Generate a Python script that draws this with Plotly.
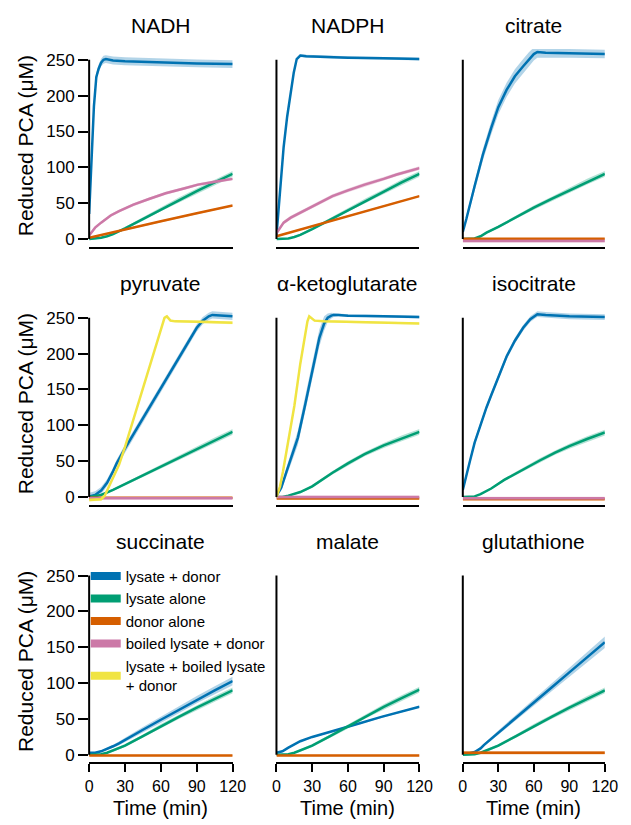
import numpy as np
import plotly.graph_objects as go

# ---------------- data ----------------
PANELS = ["NADH", "NADPH", "citrate", "pyruvate", "α-ketoglutarate",
          "isocitrate", "succinate", "malate", "glutathione"]
CONDITIONS = ["lysate + donor", "lysate alone", "donor alone",
              "boiled lysate + donor", "lysate + boiled lysate<br>+ donor"]
COLORS = ["#0072B2", "#009E73", "#D55E00", "#CC79A7", "#F0E442"]
BAND_COLORS = ["rgba(0,114,178,0.30)", "rgba(0,158,115,0.30)", "rgba(213,94,0,0.30)",
               "rgba(204,121,167,0.35)", "rgba(240,228,66,0.35)"]
X_TICKS = [0, 30, 60, 90, 120]
Y_TICKS = [0, 50, 100, 150, 200, 250]

LA_SD = [1, 1, 1, 1, 1.5, 2, 2.5, 3, 3, 3.5, 4, 4]

# NADH
NADH_LD_T = [0, 2, 4, 6, 8, 10, 12, 14, 20, 30, 45, 60, 90, 120]
NADH_LD_Y = [35, 120, 185, 226, 238, 246, 250, 251, 249, 248, 247, 246, 245, 244]
NADH_LD_SD = 5.5
NADH_LA_T = [0, 5, 10, 15, 20, 30, 45, 60, 75, 90, 105, 120]
NADH_LA_Y = [0, 0.5, 2, 4, 7, 15, 28, 42, 55, 67, 79, 91]
NADH_DA_T = [0, 30, 60, 90, 120]
NADH_DA_Y = [2, 14, 25, 36, 47]
NADH_BLD_T = [0, 5, 10, 18, 25, 37, 50, 64, 80, 91, 105, 120]
NADH_BLD_Y = [5, 16, 23, 33, 39, 48, 56, 64, 71, 76, 80, 84]

# NADPH
NADPH_LD_T = [0, 2, 3.5, 6, 9, 12, 14.5, 17, 20, 25, 40, 60, 90, 120]
NADPH_LD_Y = [5, 46, 83, 128, 171, 206, 232, 251, 256, 255, 254, 253, 252, 251]
NADPH_LA_T = [0, 5, 10, 15, 20, 30, 45, 60, 75, 90, 105, 120]
NADPH_LA_Y = [0, 0, 1, 3, 6, 14, 27, 41, 54, 66, 79, 91]
NADPH_DA_T = [0, 30, 60, 90, 120]
NADPH_DA_Y = [4, 18, 32, 46, 60]
NADPH_BLD_T = [0, 6, 12, 20, 30, 47, 60, 74, 90, 101, 120]
NADPH_BLD_Y = [8, 23, 30, 37, 46, 60, 68, 76, 84, 90, 99]

# citrate
CIT_LD_T = [0, 3, 10, 17, 24, 30, 37, 44, 51, 56, 60, 63, 70, 90, 120]
CIT_LD_Y = [10, 28, 74, 118, 155, 184, 208, 227, 241, 251, 258, 261, 260, 259, 258]
CIT_LD_SD = [3, 5, 7, 8, 9, 10, 10, 10, 10, 10, 9, 8, 7, 6, 6]
CIT_LA_T = [0, 5, 10, 15, 20, 30, 45, 60, 75, 90, 105, 120]
CIT_LA_Y = [0, 0, 1, 4, 9, 17, 31, 44, 56, 68, 80, 91]
CIT_DA_T = [0, 60, 120]
CIT_DA_Y = [0.5, 0.5, 0.5]
CIT_BLD_T = [0, 60, 120]
CIT_BLD_Y = [-2.5, -2.5, -2.5]

# pyruvate
PYR_LD_T = [0, 5, 10, 15, 20, 23, 30, 40, 50, 60, 70, 80, 90, 95, 100, 103, 110, 120]
PYR_LD_Y = [1, 3, 9, 20, 36, 47, 68, 96, 124, 152, 180, 208, 236, 246, 252, 254, 253, 252]
PYR_LA_T = [0, 5, 10, 20, 30, 45, 60, 75, 90, 105, 120]
PYR_LA_Y = [0, 1, 3, 10, 18, 30, 43, 55, 67, 79, 91]
PYR_DA_T = [0, 60, 120]
PYR_DA_Y = [-1, -1, -1]
PYR_BLD_T = [0, 60, 120]
PYR_BLD_Y = [-1.5, -1.5, -1.5]
PYR_LBLD_T = [0, 5, 10, 13, 18, 25, 30, 40, 50, 60, 63, 65, 68, 72, 80, 100, 120]
PYR_LBLD_Y = [-4, -4, -3, 2, 20, 45, 70, 125, 180, 235, 250, 252, 246, 245, 245, 244, 243]

# alpha-ketoglutarate
AKG_LD_T = [0, 4, 8.5, 13, 18, 24, 30, 36, 40, 43, 46, 48, 52, 60, 90, 120]
AKG_LD_Y = [2, 13, 36, 58, 83, 128, 175, 222, 242, 250, 253, 254, 254, 253, 252, 251]
AKG_LD_SD = [2, 4, 6, 8, 10, 12, 12, 12, 10, 6, 4, 3, 2, 2, 2, 2]
AKG_LA_T = [0, 5, 10, 20, 30, 47, 60, 74, 90, 105, 120]
AKG_LA_Y = [0, 0, 2, 7, 15, 34, 47, 60, 72, 82, 91]
AKG_DA_T = [0, 60, 120]
AKG_DA_Y = [-2, -2, -2]
AKG_BLD_T = [0, 60, 120]
AKG_BLD_Y = [0, 0, 0]
AKG_LBLD_T = [0, 3, 5.5, 10, 15, 20, 23.5, 26, 27.5, 29, 32, 40, 60, 90, 120]
AKG_LBLD_Y = [0, 15, 36, 80, 127, 186, 224, 245, 252, 250, 246, 245, 244, 243, 242]

# isocitrate
ISO_LD_T = [0, 3, 6, 10, 14, 17, 20, 24, 30, 37, 44, 51, 57, 61, 63, 70, 90, 120]
ISO_LD_Y = [10, 32, 50, 76, 96, 110, 125, 142, 168, 196, 218, 236, 248, 253, 255, 254, 252, 251]
ISO_LA_T = [0, 5, 10, 15, 24, 35, 51, 65, 78, 90, 105, 120]
ISO_LA_Y = [0, 0, 1, 4, 12, 24, 39, 51, 62, 71, 81, 90]
ISO_DA_T = [0, 60, 120]
ISO_DA_Y = [-3, -3, -3]
ISO_BLD_T = [0, 60, 120]
ISO_BLD_Y = [-1.5, -1.5, -1.5]

# succinate
SUC_LD_T = [0, 5, 10, 15, 20, 25, 30, 45, 60, 75, 90, 105, 120]
SUC_LD_Y = [3, 3, 5, 8, 12, 16, 21, 35, 49, 63, 77, 90, 103]
SUC_LD_SD = [1, 1, 1, 1.5, 2, 2.5, 3, 4, 4.5, 5, 5, 5.5, 6]
SUC_LA_T = [0, 5, 10, 15, 20, 30, 45, 60, 75, 90, 105, 120]
SUC_LA_Y = [0, 0, 1, 3, 6, 13, 26, 40, 53, 66, 78, 90]
SUC_DA_T = [0, 60, 120]
SUC_DA_Y = [-1, -1, -1]

# malate
MAL_LD_T = [0, 5, 10, 20, 30, 45, 57, 70, 88, 105, 120]
MAL_LD_Y = [3, 5, 10, 19, 25, 32, 37, 44, 53, 60, 67]
MAL_LA_T = [0, 5, 10, 15, 20, 30, 45, 57, 75, 90, 105, 120]
MAL_LA_Y = [0, 0, 1, 3, 6, 13, 26, 37, 54, 67, 79, 91]
MAL_DA_T = [0, 60, 120]
MAL_DA_Y = [-1, -1, -1]

# glutathione
GLU_LD_T = [0, 5, 10, 15, 18, 25, 30, 45, 60, 75, 90, 105, 120]
GLU_LD_Y = [2, 2, 4, 9, 14, 24, 31, 52, 73, 94, 115, 136, 157]
GLU_LD_SD = [1, 1, 1, 2, 2, 3, 3, 4, 5, 6, 6, 7, 8]
GLU_LA_T = [0, 5, 10, 15, 20, 30, 45, 60, 75, 90, 105, 120]
GLU_LA_Y = [0, 0, 1, 3, 6, 13, 26, 40, 53, 66, 78, 90]
GLU_DA_T = [0, 60, 120]
GLU_DA_Y = [3, 3, 3]

# (condition index, t, y, sd) per panel
SERIES = {
    "NADH": [(0, NADH_LD_T, NADH_LD_Y, NADH_LD_SD), (1, NADH_LA_T, NADH_LA_Y, LA_SD),
             (2, NADH_DA_T, NADH_DA_Y, 1), (3, NADH_BLD_T, NADH_BLD_Y, 2)],
    "NADPH": [(0, NADPH_LD_T, NADPH_LD_Y, 2), (1, NADPH_LA_T, NADPH_LA_Y, LA_SD),
              (2, NADPH_DA_T, NADPH_DA_Y, 1), (3, NADPH_BLD_T, NADPH_BLD_Y, 2.5)],
    "citrate": [(0, CIT_LD_T, CIT_LD_Y, CIT_LD_SD), (1, CIT_LA_T, CIT_LA_Y, LA_SD),
                (2, CIT_DA_T, CIT_DA_Y, 1), (3, CIT_BLD_T, CIT_BLD_Y, 2)],
    "pyruvate": [(0, PYR_LD_T, PYR_LD_Y, 5), (1, PYR_LA_T, PYR_LA_Y, LA_SD[1:]),
                 (2, PYR_DA_T, PYR_DA_Y, 1), (3, PYR_BLD_T, PYR_BLD_Y, 2),
                 (4, PYR_LBLD_T, PYR_LBLD_Y, 2)],
    "α-ketoglutarate": [(0, AKG_LD_T, AKG_LD_Y, AKG_LD_SD), (1, AKG_LA_T, AKG_LA_Y, LA_SD[1:]),
                        (2, AKG_DA_T, AKG_DA_Y, 1), (3, AKG_BLD_T, AKG_BLD_Y, 2),
                        (4, AKG_LBLD_T, AKG_LBLD_Y, 1.5)],
    "isocitrate": [(0, ISO_LD_T, ISO_LD_Y, 4), (1, ISO_LA_T, ISO_LA_Y, LA_SD),
                   (2, ISO_DA_T, ISO_DA_Y, 1), (3, ISO_BLD_T, ISO_BLD_Y, 2)],
    "succinate": [(0, SUC_LD_T, SUC_LD_Y, SUC_LD_SD), (1, SUC_LA_T, SUC_LA_Y, LA_SD),
                  (2, SUC_DA_T, SUC_DA_Y, 1)],
    "malate": [(0, MAL_LD_T, MAL_LD_Y, 1), (1, MAL_LA_T, MAL_LA_Y, LA_SD),
               (2, MAL_DA_T, MAL_DA_Y, 1)],
    "glutathione": [(0, GLU_LD_T, GLU_LD_Y, GLU_LD_SD), (1, GLU_LA_T, GLU_LA_Y, LA_SD),
                    (2, GLU_DA_T, GLU_DA_Y, 2.5)],
}

# ---------------- layout geometry (pixels) ----------------
W, H = 631, 825
FONT = "Liberation Sans, Arial, sans-serif"
COL_PX = [(87.5, 235), (280, 427), (471.5, 617.5)]
ROW_ZERO_PX = [239.7, 498.3, 756.7]
Y_MIN, Y_MAX = -10.4, 265
PX_PER_UNIT = 0.719


def px_x(p):
    return p / W


def px_y(p):
    return 1 - p / H


fig = go.Figure()
layout = dict(width=W, height=H, margin=dict(l=0, r=0, t=0, b=0),
              paper_bgcolor="white", plot_bgcolor="white",
              font=dict(family=FONT, size=17, color="black"),
              showlegend=True)
annotations = []
shapes = []

for i, name in enumerate(PANELS):
    r, c = divmod(i, 3)
    xa = "x" if i == 0 else f"x{i + 1}"
    ya = "y" if i == 0 else f"y{i + 1}"
    xkey = "xaxis" if i == 0 else f"xaxis{i + 1}"
    ykey = "yaxis" if i == 0 else f"yaxis{i + 1}"
    zero = ROW_ZERO_PX[r]
    top = zero - Y_MAX * PX_PER_UNIT
    bot = zero - Y_MIN * PX_PER_UNIT
    x0, x1 = COL_PX[c]
    bottom_row = r == 2
    layout[xkey] = dict(domain=[px_x(x0), px_x(x1)], range=[0, 120], anchor=ya,
                        showline=True, linecolor="black", linewidth=2,
                        showgrid=False, zeroline=False,
                        tickvals=X_TICKS if bottom_row else [],
                        ticks="outside" if bottom_row else "",
                        ticklen=8, tickwidth=2, tickcolor="black",
                        showticklabels=bottom_row,
                        tickfont=dict(family=FONT, size=16, color="black"))
    layout[ykey] = dict(domain=[px_y(bot), px_y(top)], range=[Y_MIN, Y_MAX], anchor=xa,
                        showline=False, showgrid=False, zeroline=False,
                        tickvals=Y_TICKS if c == 0 else [],
                        ticks="outside" if c == 0 else "",
                        ticklen=10, tickwidth=2, tickcolor="black",
                        showticklabels=c == 0,
                        tickfont=dict(family=FONT, size=17, color="black"))
    # y axis line spanning 0..250
    shapes.append(dict(type="line", xref=f"{xa} domain", yref=ya, x0=0, x1=0,
                       y0=Y_TICKS[0], y1=Y_TICKS[-1], layer="above",
                       line=dict(color="black", width=2)))
    # panel title
    annotations.append(dict(text=name, x=px_x((x0 + x1) / 2), y=px_y(zero - 214),
                            xref="paper", yref="paper", showarrow=False,
                            xanchor="center", yanchor="middle",
                            font=dict(family=FONT, size=21, color="black")))
    if c == 0:
        annotations.append(dict(text="Reduced PCA (μM)", x=px_x(22),
                                y=px_y(zero - 130 * PX_PER_UNIT),
                                xref="paper", yref="paper", showarrow=False,
                                textangle=-90, xanchor="center", yanchor="middle",
                                font=dict(family=FONT, size=21, color="black")))
    if bottom_row:
        annotations.append(dict(text="Time (min)", x=px_x((x0 + x1) / 2), y=px_y(810),
                                xref="paper", yref="paper", showarrow=False,
                                xanchor="center", yanchor="middle",
                                font=dict(family=FONT, size=20, color="black")))

    for cond, t, y, sd in SERIES[name]:
        t = np.asarray(t, float)
        y = np.asarray(y, float)
        s = np.broadcast_to(np.asarray(sd, float), y.shape)
        fig.add_trace(go.Scatter(x=np.concatenate([t, t[::-1]]),
                                 y=np.concatenate([y + s, (y - s)[::-1]]),
                                 fill="toself", fillcolor=BAND_COLORS[cond],
                                 line=dict(width=0), mode="lines", hoverinfo="skip",
                                 showlegend=False, xaxis=xa, yaxis=ya))
        fig.add_trace(go.Scatter(x=t, y=y, mode="lines",
                                 line=dict(color=COLORS[cond], width=2.5),
                                 name=CONDITIONS[cond], showlegend=False,
                                 xaxis=xa, yaxis=ya))

# legend entries (drawn in the succinate panel)
for cond, label in enumerate(CONDITIONS):
    fig.add_trace(go.Scatter(x=[None], y=[None], mode="lines", name=label,
                             line=dict(color=COLORS[cond], width=8),
                             showlegend=True, xaxis="x7", yaxis="y7"))

layout["legend"] = dict(x=px_x(84), y=px_y(561), xanchor="left", yanchor="top",
                        bgcolor="rgba(0,0,0,0)", borderwidth=0,
                        font=dict(family=FONT, size=15, color="black"),
                        itemwidth=30, tracegroupgap=0, valign="middle")
layout["annotations"] = annotations
layout["shapes"] = shapes
fig.update_layout(**layout)
fig.write_html("out.html", config={"displayModeBar": False},
               post_script="document.body.style.margin='0';"
                           "document.body.style.overflow='hidden';")
